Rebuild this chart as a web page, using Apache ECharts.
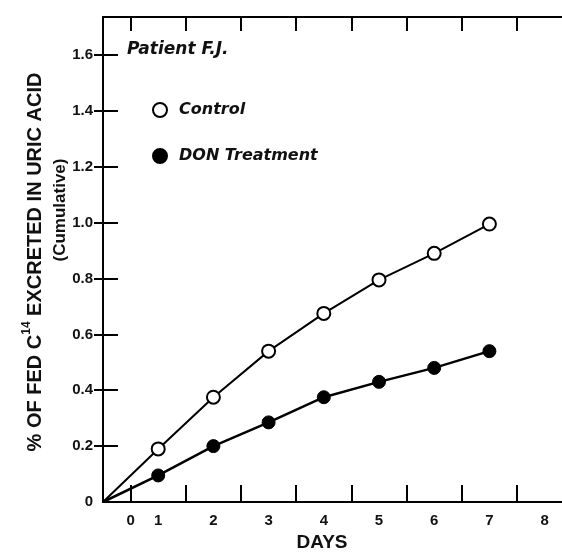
<!DOCTYPE html>
<html>
<head>
<meta charset="utf-8">
<script src="https://cdn.jsdelivr.net/npm/echarts@6/dist/echarts.min.js"></script>
<style>html,body{margin:0;padding:0;background:#fff;}#c{width:562px;height:554px;}</style>
</head>
<body>
<div id="c"></div>
<script>
const days = [0, 1, 2, 3, 4, 5, 6, 7];
const control = [0, 0.19, 0.375, 0.54, 0.675, 0.795, 0.89, 0.995];
const donTreatment = [0, 0.095, 0.2, 0.285, 0.375, 0.43, 0.48, 0.54];
const xLabelValues = [0.5, 1, 2, 3, 4, 5, 6, 7, 8];
const xLabelTexts = ['0', '1', '2', '3', '4', '5', '6', '7', '8'];
const xTickValues = [0.5, 1.5, 2.5, 3.5, 4.5, 5.5, 6.5, 7.5];
const yTickValues = [0, 0.2, 0.4, 0.6, 0.8, 1.0, 1.2, 1.4, 1.6];
const yLabelTexts = ['0', '0.2', '0.4', '0.6', '0.8', '1.0', '1.2', '1.4', '1.6'];

const FONT = '"Liberation Sans", Arial, sans-serif';
const WIDE = '"DejaVu Sans", sans-serif';

function toData(vals) {
  return days.map((d, i) => i === 0 ? { value: [d, vals[i]], symbol: 'none' } : [d, vals[i]]);
}

const tickLabelStyle = { fontFamily: FONT, fontSize: 15, fontWeight: 'bold', color: '#111' };

const chart = echarts.init(document.getElementById('c'), null, { renderer: 'canvas' });
chart.setOption({
  animation: false,
  backgroundColor: '#fff',
  grid: { left: 103, top: 17, right: 0, bottom: 52, containLabel: false },
  legend: {
    orient: 'vertical',
    left: 147,
    top: 97,
    padding: 5,
    itemGap: 30,
    itemWidth: 14,
    itemHeight: 14,
    icon: 'circle',
    textStyle: { fontFamily: WIDE, fontSize: 16, fontStyle: 'italic', fontWeight: 'bold', color: '#111', padding: [0, 0, 0, 7] },
    data: ['Control', 'DON Treatment']
  },
  xAxis: [
    {
      type: 'value', position: 'bottom', min: 0, max: 8.315,
      axisLine: { show: true, onZero: false, lineStyle: { color: '#000', width: 2 } },
      axisTick: { show: true, inside: true, length: 17, customValues: xTickValues, lineStyle: { color: '#000', width: 2 } },
      axisLabel: Object.assign({
        show: true, customValues: xLabelValues, margin: 11,
        formatter: v => xLabelTexts[xLabelValues.indexOf(v)] ?? ''
      }, tickLabelStyle),
      splitLine: { show: false }
    },
    {
      type: 'value', position: 'top', min: 0, max: 8.315,
      axisLine: { show: true, onZero: false, lineStyle: { color: '#000', width: 2 } },
      axisTick: { show: true, inside: true, length: 14, customValues: xTickValues, lineStyle: { color: '#000', width: 2 } },
      axisLabel: { show: false },
      splitLine: { show: false }
    }
  ],
  yAxis: [
    {
      type: 'value', position: 'left', min: 0, max: 1.736,
      axisLine: { show: true, onZero: false, lineStyle: { color: '#000', width: 2 } },
      axisTick: { show: true, inside: true, length: 15, customValues: yTickValues, lineStyle: { color: '#000', width: 2 } },
      axisLabel: Object.assign({
        show: true, customValues: yTickValues, margin: 10,
        formatter: v => yLabelTexts[yTickValues.indexOf(v)] ?? ''
      }, tickLabelStyle),
      splitLine: { show: false }
    },
    {
      type: 'value', position: 'right', min: 0, max: 1.736,
      axisLine: { show: false },
      axisTick: { show: true, inside: true, length: 9, customValues: yTickValues.slice(1), lineStyle: { color: '#000', width: 2 } },
      axisLabel: { show: false },
      splitLine: { show: false }
    }
  ],
  graphic: [
    {
      type: 'text', x: 33, y: 262, rotation: Math.PI / 2,
      style: {
        text: '{m|% OF FED C}{s|14}{m| EXCRETED IN URIC ACID}',
        align: 'center', verticalAlign: 'middle',
        rich: {
          m: { fontFamily: FONT, fontSize: 20, fontWeight: 'bold', fill: '#111', lineHeight: 24, verticalAlign: 'bottom' },
          s: { fontFamily: FONT, fontSize: 12, fontWeight: 'bold', fill: '#111', lineHeight: 24, verticalAlign: 'top' }
        }
      }
    },
    {
      type: 'text', x: 60, y: 210, rotation: Math.PI / 2,
      style: {
        text: '(Cumulative)', align: 'center', verticalAlign: 'middle',
        fontFamily: FONT, fontSize: 17, fontWeight: 'bold', fill: '#111'
      }
    },
    {
      type: 'text', x: 127, y: 50,
      style: {
        text: 'Patient F.J.', align: 'left', verticalAlign: 'middle',
        fontFamily: WIDE, fontSize: 17, fontStyle: 'italic', fontWeight: 'bold', fill: '#111'
      }
    },
    {
      type: 'text', x: 322, y: 543,
      style: {
        text: 'DAYS', align: 'center', verticalAlign: 'middle',
        fontFamily: FONT, fontSize: 19, fontWeight: 'bold', fill: '#111'
      }
    }
  ],
  series: [
    {
      name: 'Control', type: 'line', xAxisIndex: 0, yAxisIndex: 0,
      data: toData(control),
      symbol: 'circle', symbolSize: 13,
      itemStyle: { color: '#fff', borderColor: '#000', borderWidth: 2 },
      lineStyle: { color: '#000', width: 2 },
      z: 3
    },
    {
      name: 'DON Treatment', type: 'line', xAxisIndex: 0, yAxisIndex: 0,
      data: toData(donTreatment),
      symbol: 'circle', symbolSize: 13,
      itemStyle: { color: '#000', borderColor: '#000', borderWidth: 1 },
      lineStyle: { color: '#000', width: 2.5 },
      z: 3
    }
  ]
});
</script>
</body>
</html>
